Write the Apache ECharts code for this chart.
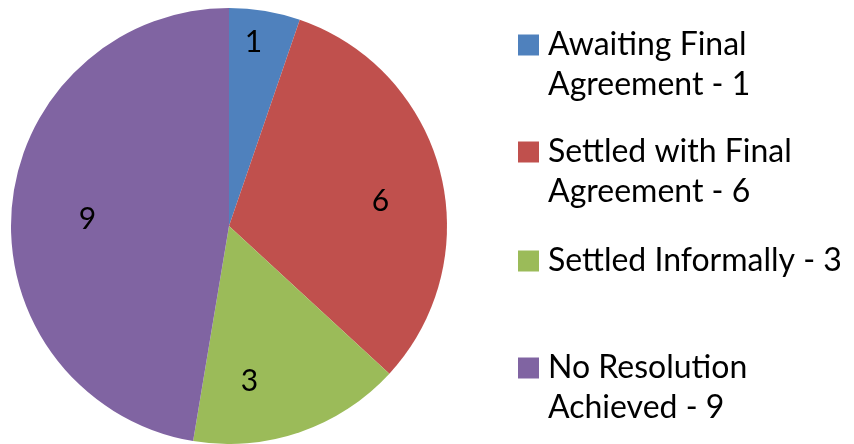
<!DOCTYPE html>
<html>
<head>
<meta charset="utf-8">
<script src="https://cdn.jsdelivr.net/npm/echarts@6/dist/echarts.min.js"></script>
<style>
html,body{margin:0;padding:0;background:#fff;}
#chart{width:854px;height:444px;}
</style>
</head>
<body>
<div id="chart"></div>
<script>
const categories = ["Awaiting Final Agreement", "Settled with Final Agreement", "Settled Informally", "No Resolution Achieved"];
const values = [1, 6, 3, 9];
const legendLines = [
  ["Awaiting Final", "Agreement - 1"],
  ["Settled with Final", "Agreement - 6"],
  ["Settled Informally - 3"],
  ["No Resolution", "Achieved - 9"]
];

const colors = ['#4F81BD', '#C0504D', '#9BBB59', '#8064A2'];
const labelOffsets = [[6, -73], [43, 3], [-16, 49], [-30, 3]];
const legendIconCenters = [45, 152, 261, 368];
const FONT = 'Lato';
const FS = 32;
const LH = 40;

const chart = echarts.init(document.getElementById('chart'), null, {renderer: 'canvas'});

const legends = categories.map((name, i) => {
  const lines = legendLines[i];
  // blank lines above so the first text line sits level with the marker
  const blanks = lines.length - 1;
  const all = [];
  for (let k = 0; k < blanks; k++) all.push('{t| }');
  lines.forEach(l => all.push('{t|' + l + '}'));
  const total = all.length;
  return {
    show: true,
    orient: 'vertical',
    left: 518,
    top: legendIconCenters[i] - total * LH / 2,
    padding: 0,
    icon: 'rect',
    itemWidth: 21,
    itemHeight: 21,
    selectedMode: false,
    data: [name],
    formatter: () => all.join('\n'),
    textStyle: {
      fontFamily: FONT,
      fontSize: FS,
      color: '#000',
      lineHeight: LH,
      rich: {
        t: {
          fontFamily: FONT,
          fontSize: FS,
          color: '#000',
          lineHeight: LH,
          padding: [0, 0, 0, 4]
        }
      }
    }
  };
});

chart.setOption({
  animation: false,
  color: colors,
  legend: legends,
  series: [{
    type: 'pie',
    center: [229, 226],
    radius: 218,
    startAngle: 90,
    clockwise: true,
    silent: true,
    label: {
      show: true,
      position: 'inside',
      fontFamily: FONT,
      fontSize: 30,
      color: '#000',
      formatter: '{c}'
    },
    labelLine: {show: false},
    itemStyle: {borderWidth: 0},
    data: categories.map((name, i) => ({
      name: name,
      value: values[i],
      label: {offset: labelOffsets[i]}
    }))
  }]
});
</script>
</body>
</html>
